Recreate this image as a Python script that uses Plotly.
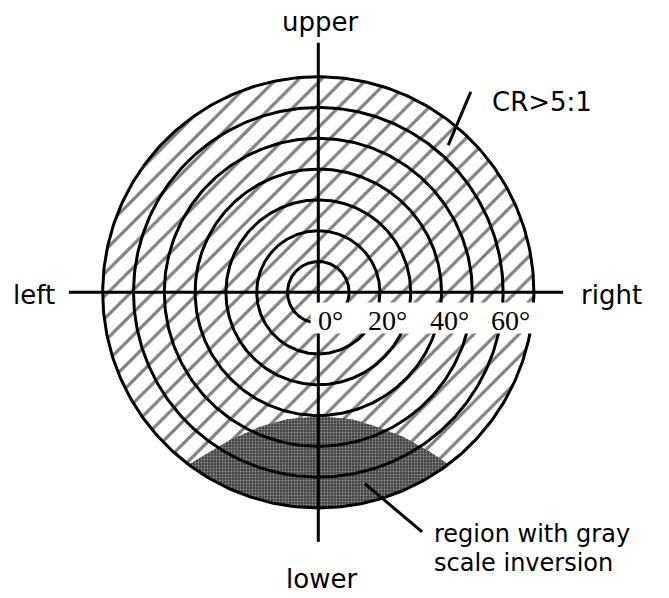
import numpy as np
import plotly.graph_objects as go

# viewing-angle rings (polar angle, degrees)
ring_angles = [10, 20, 30, 40, 50, 60, 70]
tick_values = [0, 20, 40, 60]
tick_labels = ["0°", "20°", "40°", "60°"]

# gray scale inversion region: azimuth (deg, 0 = right, ccw) and polar angle of its inner edge
inv_azimuth = [233.0, 239.1, 246.5, 256.0, 270.8, 285.4, 293.5, 300.5, 305.0, 307.1]
inv_polar = [70.0, 55.9, 47.6, 42.5, 40.2, 42.8, 47.6, 54.4, 63.2, 70.0]

SANS = "DejaVu Sans"
SERIF = "Liberation Serif"
AXIS_EXT = 81


def to_xy(az_deg, r):
    a = np.radians(np.asarray(az_deg, dtype=float))
    r = np.asarray(r, dtype=float)
    return r * np.cos(a), r * np.sin(a)


rim = ring_angles[-1]
full = np.linspace(0, 360, 361)

fig = go.Figure()

# hatched disk (CR > 5:1 everywhere)
hx, hy = to_xy(full, np.full(full.shape, rim))
fig.add_scatter(x=hx, y=hy, mode="lines", fill="toself", fillcolor="white",
                fillpattern=dict(shape="/", fgcolor="black", bgcolor="white",
                                 size=16, solidity=0.2),
                line=dict(width=0), hoverinfo="skip")

# gray scale inversion region
ix, iy = to_xy(inv_azimuth, inv_polar)
arc = np.linspace(inv_azimuth[-1], inv_azimuth[0], 60)
ox, oy = to_xy(arc, np.full(arc.shape, rim))
fig.add_scatter(x=np.concatenate([ix, ox]), y=np.concatenate([iy, oy]),
                mode="lines", fill="toself", fillcolor="#505050",
                fillpattern=dict(shape=".", fgcolor="#dddddd", bgcolor="#444444",
                                 size=3, solidity=0.3),
                line=dict(width=0), hoverinfo="skip")

# rings
for r in ring_angles:
    cx, cy = to_xy(full, np.full(full.shape, r))
    fig.add_scatter(x=cx, y=cy, mode="lines", line=dict(color="black", width=3),
                    hoverinfo="skip")

# cross axes
fig.add_scatter(x=[-AXIS_EXT, AXIS_EXT - 1.5], y=[0, 0], mode="lines",
                line=dict(color="black", width=3), hoverinfo="skip")
fig.add_scatter(x=[0, 0], y=[-AXIS_EXT, AXIS_EXT], mode="lines",
                line=dict(color="black", width=3), hoverinfo="skip")

shapes = [
    # white strip behind the angle labels
    dict(type="rect", x0=-2.5, x1=74, y0=-3.3, y1=-13.4, layer="above",
         fillcolor="white", line=dict(width=0)),
    # leader lines
    dict(type="line", x0=42.2, y0=47.8, x1=49.5, y1=65.1, layer="above",
         line=dict(color="black", width=3)),
    dict(type="line", x0=15.2, y0=-62.2, x1=33.7, y1=-77.8, layer="above",
         line=dict(color="black", width=3)),
]

annotations = []
for v, t in zip(tick_values, tick_labels):
    annotations.append(dict(x=v + 2.5 + (1.5 if v == 0 else 0), y=-9.0, text=t,
                            showarrow=False, xanchor="center", yanchor="middle",
                            font=dict(family=SERIF, size=28, color="black")))

label_font = dict(family=SANS, size=26, color="black")
note_font = dict(family=SANS, size=24, color="black")
annotations += [
    dict(x=0.5, y=87.8, text="upper", xanchor="center"),
    dict(x=1.0, y=-93.0, text="lower", xanchor="center"),
    dict(x=-92.3, y=-0.8, text="left", xanchor="center"),
    dict(x=95.3, y=-0.8, text="right", xanchor="center"),
    dict(x=55.7, y=61.8, text="CR>5:1", xanchor="left"),
    dict(x=36.9, y=-78.6, text="region with gray", xanchor="left", font=note_font),
    dict(x=36.9, y=-88.0, text="scale inversion", xanchor="left", font=note_font),
]
for a in annotations[len(tick_values):]:
    a.setdefault("font", label_font)
    a.update(showarrow=False, yanchor="middle")

# the page body adds an 8px offset, so the ranges put the chart centre
# at (318, 292) of the window
fig.update_layout(
    width=669, height=598,
    margin=dict(l=0, r=0, t=0, b=0, pad=0),
    paper_bgcolor="white", plot_bgcolor="white",
    showlegend=False,
    xaxis=dict(range=[-100.75, 116.46], visible=False, fixedrange=True),
    yaxis=dict(range=[-101.85, 92.31], visible=False, fixedrange=True),
    shapes=shapes,
    annotations=annotations,
)

fig.write_html("out.html")
